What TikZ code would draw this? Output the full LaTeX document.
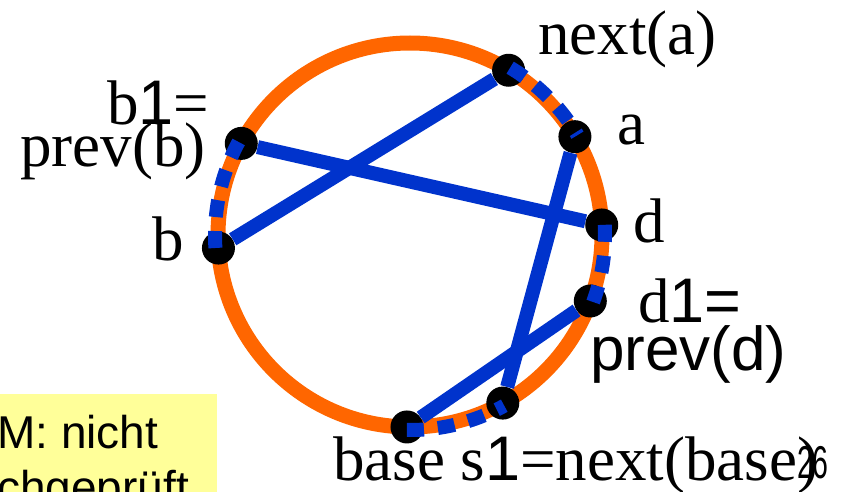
\documentclass[tikz,border=0pt]{standalone}
\usepackage{fontspec}
\setmainfont{Liberation Serif}
\setsansfont{Liberation Sans}
\usetikzlibrary{positioning}
\definecolor{ringorange}{HTML}{FF6600}
\definecolor{chordblue}{HTML}{0033CC}
\definecolor{notefill}{HTML}{FFFF99}
\tikzset{
  ring/.style={draw=ringorange,line width=15pt},
  dot/.style={circle,fill=black,inner sep=0pt,minimum size=33pt},
  chord/.style={draw=chordblue,line width=14pt},
  chorddash/.style={draw=chordblue,line width=14pt,dash pattern=on 17pt off 14pt},
  lab/.style={inner sep=0pt,anchor=base west,font=\fontsize{63}{66}\selectfont},
  labsf/.style={inner sep=0pt,anchor=base west,font=\sffamily\fontsize{62}{64}\selectfont},
  notetext/.style={inner sep=0pt,anchor=base west,align=left,font=\sffamily\fontsize{46}{55}\selectfont}
}
\begin{document}
\begin{tikzpicture}[x=1pt,y=-1pt]
\useasboundingbox (0,0) rectangle (852,492);
\begin{scope}
\clip (0,0) rectangle (852,492);
% note box, cut off at the page edge
\fill[notefill] (0,394) rectangle (217,500);
\node[notetext] (note) at (-3,503) {M: nicht\\chgeprüft};
\end{scope}
% the ring
\coordinate (c) at (410,235);
\draw[ring] (c) circle[radius=192];
\foreach \ang/\nm in {-59.1/na,-30.8/a,-3/d,20.1/dp,61.1/sn,90.9/base,176.1/b,208.5/bp}
  \path (c) ++(\ang:192) node[dot] (\nm) {};
% crossing chords
\draw[chord] (b) -- (na);
\draw[chord] (bp) -- (d);
\draw[chord] (a) -- (sn);
\draw[chord] (dp) -- (base);
% dashed pieces along the ring
\draw[chorddash] (c) ++(-59.1:195) arc[start angle=-59.1,end angle=-30.8,radius=195];
\draw[chorddash] (c) ++(-151.5:195) arc[start angle=-151.5,end angle=-183.9,radius=195];
\draw[chorddash] (c) ++(-3:195) arc[start angle=-3,end angle=20.1,radius=195];
\draw[chorddash] (c) ++(90.9:195) arc[start angle=90.9,end angle=61.1,radius=195];
% labels
\node[lab] (lna) at (538,55) {next(a)};
\node[lab] (la) at (617,145) {a};
\node[lab] (lbp) at (107,125) {b{\sffamily 1}=};
\node[lab] (lbp2) at (20,167) {prev(b)};
\node[lab] (lb) at (152,260) {b};
\node[lab] (ld) at (633,243) {d};
\node[lab] (ldp) at (638,322) {d{\sffamily 1=}};
\node[labsf] (ldp2) at (590,370) {prev(d)};
\node[lab] (lbase) at (333,480) {base s{\sffamily 1}=next(base)};
\node[inner sep=0pt,anchor=base west,font=\sffamily\fontsize{46}{46}\selectfont,xscale=0.62,transform shape] (page) at (797,478) {26};
\end{tikzpicture}
\end{document}
